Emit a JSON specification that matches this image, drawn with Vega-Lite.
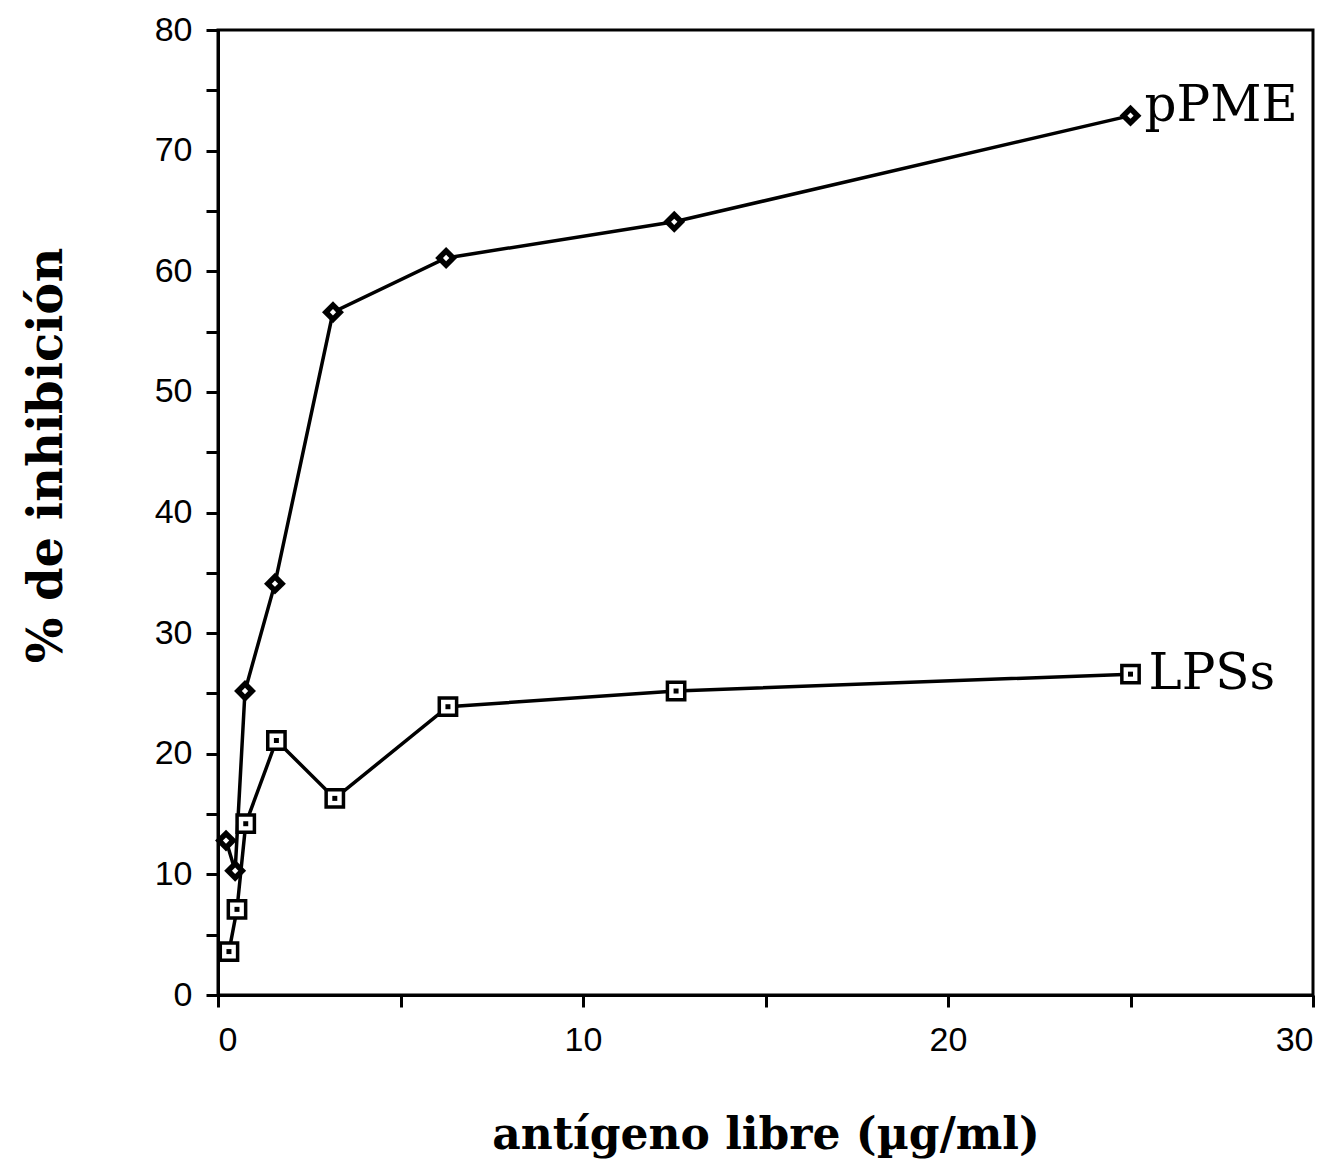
{
  "$schema": "https://vega.github.io/schema/vega-lite/v6.json",
  "autosize": "none",
  "width": 1095,
  "height": 965,
  "padding": {"left": 218, "top": 30, "right": 30, "bottom": 174},
  "background": "white",
  "config": {
    "view": {"stroke": "black", "strokeWidth": 3},
    "axis": {"grid": false, "domainColor": "black", "domainWidth": 3, "tickColor": "black", "tickWidth": 3, "labelColor": "black", "titleColor": "black"}
  },
  "data": {"values": [
    {"series": "pPME", "x": 0.22, "y": 12.8},
    {"series": "pPME", "x": 0.47, "y": 10.3},
    {"series": "pPME", "x": 0.74, "y": 25.2},
    {"series": "pPME", "x": 1.56, "y": 34.1},
    {"series": "pPME", "x": 3.15, "y": 56.6},
    {"series": "pPME", "x": 6.25, "y": 61.1},
    {"series": "pPME", "x": 12.5, "y": 64.1},
    {"series": "pPME", "x": 25, "y": 72.9},
    {"series": "LPSs", "x": 0.3, "y": 3.6},
    {"series": "LPSs", "x": 0.52, "y": 7.1},
    {"series": "LPSs", "x": 0.76, "y": 14.2},
    {"series": "LPSs", "x": 1.6, "y": 21.1},
    {"series": "LPSs", "x": 3.2, "y": 16.3},
    {"series": "LPSs", "x": 6.3, "y": 23.9},
    {"series": "LPSs", "x": 12.55, "y": 25.2},
    {"series": "LPSs", "x": 25, "y": 26.6}
  ]},
  "encoding": {
    "x": {"field": "x", "type": "quantitative",
      "scale": {"domain": [0, 30], "nice": false, "zero": false},
      "axis": {"values": [0, 5, 10, 15, 20, 25, 30], "labelExpr": "datum.value % 10 === 0 ? datum.label : ''",
        "tickSize": 12, "labelPadding": 16, "labelFont": "Liberation Sans", "labelFontSize": 34,
        "title": "antígeno libre (µg/ml)", "titleFont": "DejaVu Serif", "titleFontSize": 44, "titleFontWeight": "bold",
        "titleY": 140, "titleBaseline": "middle"}},
    "y": {"field": "y", "type": "quantitative",
      "scale": {"domain": [0, 80], "nice": false},
      "axis": {"values": [0, 5, 10, 15, 20, 25, 30, 35, 40, 45, 50, 55, 60, 65, 70, 75, 80], "labelExpr": "datum.value % 10 === 0 ? datum.label : ''",
        "tickSize": 12, "labelPadding": 14, "labelFont": "Liberation Sans", "labelFontSize": 34,
        "title": "% de inhibición", "titleFont": "DejaVu Serif", "titleFontSize": 48, "titleFontWeight": "bold",
        "titleAngle": 270, "titleAlign": "center", "titleBaseline": "middle", "titleX": -171, "titleY": 425}}
  },
  "layer": [
    {"mark": {"type": "line", "color": "black", "strokeWidth": 3.5},
     "encoding": {"detail": {"field": "series"}}},
    {"transform": [{"filter": "datum.series === 'pPME'"}],
     "mark": {"type": "point", "shape": "diamond", "filled": true, "color": "black", "size": 480, "opacity": 1}},
    {"transform": [{"filter": "datum.series === 'pPME'"}],
     "mark": {"type": "point", "shape": "diamond", "filled": true, "color": "white", "size": 40, "opacity": 1}},
    {"transform": [{"filter": "datum.series === 'LPSs'"}],
     "mark": {"type": "point", "shape": "square", "filled": true, "fill": "white", "stroke": "black", "strokeWidth": 3.5, "size": 300, "opacity": 1}},
    {"transform": [{"filter": "datum.series === 'LPSs'"}],
     "mark": {"type": "point", "shape": "square", "filled": true, "color": "black", "size": 25, "opacity": 1}},
    {"transform": [{"filter": "datum.series === 'pPME'"}, {"filter": "datum.x === 25"}],
     "mark": {"type": "text", "align": "left", "baseline": "middle", "dx": 14, "dy": -10, "font": "DejaVu Serif", "fontSize": 50, "color": "black"},
     "encoding": {"text": {"field": "series"}}},
    {"transform": [{"filter": "datum.series === 'LPSs'"}, {"filter": "datum.x === 25"}],
     "mark": {"type": "text", "align": "left", "baseline": "middle", "dx": 18, "dy": 0, "font": "DejaVu Serif", "fontSize": 50, "color": "black"},
     "encoding": {"text": {"field": "series"}}}
  ]
}
